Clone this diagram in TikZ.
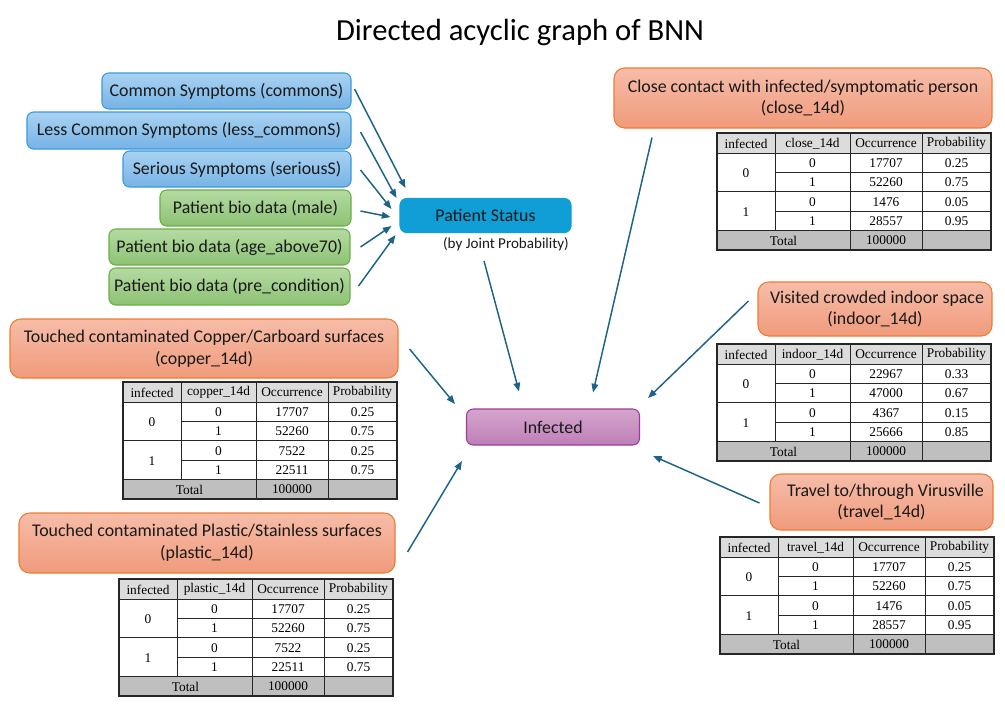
\documentclass[tikz,border=0pt]{standalone}
\usepackage{fontspec}
\setmainfont{Carlito}
\newfontfamily\tabfont{Liberation Serif}
\usetikzlibrary{arrows.meta,calc}
\definecolor{bluetop}{HTML}{A9D2F2}
\definecolor{bluebot}{HTML}{76B3E6}
\definecolor{bluebd}{HTML}{3A9AD9}
\definecolor{greentop}{HTML}{B5DAA2}
\definecolor{greenbot}{HTML}{8CC274}
\definecolor{greenbd}{HTML}{6AAE45}
\definecolor{orgtop}{HTML}{F6BCA8}
\definecolor{orgbot}{HTML}{F09B7C}
\definecolor{orgbd}{HTML}{ED7D31}
\definecolor{psfill}{HTML}{0F9ED5}
\definecolor{inftop}{HTML}{D4A5CD}
\definecolor{infbot}{HTML}{BE7FB7}
\definecolor{infbd}{HTML}{A03A9A}
\definecolor{arrc}{HTML}{1B6388}
\definecolor{hdrfill}{HTML}{DCDCDC}
\definecolor{totfill}{HTML}{BFBFBF}
\newcommand{\lblfont}{\fontsize{13.4}{16.3}\selectfont}
\tikzset{
  x=0.75pt, y=-0.75pt,
  sz/.style 2 args={minimum width=#1*0.75pt, minimum height=#2*0.75pt},
  basebox/.style={line width=0.8pt, font=\lblfont, inner sep=0pt, align=center, text=black!90},
  bluebox/.style={basebox, draw=bluebd, rounded corners=5pt, top color=bluetop, bottom color=bluebot},
  greenbox/.style={basebox, draw=greenbd, rounded corners=5pt, top color=greentop, bottom color=greenbot},
  orgbox/.style={basebox, draw=orgbd, rounded corners=8pt, top color=orgtop, bottom color=orgbot},
  psbox/.style={basebox, draw=psfill, fill=psfill, rounded corners=5pt},
  infbox/.style={basebox, draw=infbd, rounded corners=5pt, top color=inftop, bottom color=infbot},
  arr/.style={draw=arrc, line width=1.1pt, -{Triangle[length=6.5pt,width=5pt]}},
  tbl/.style={font=\tabfont\fontsize{10}{11}\selectfont, inner sep=0pt, text=black},
  tline/.style={draw=black!85, line width=0.75pt},
  tborder/.style={draw=black!85, line width=1pt},
}
\newcommand{\cpt}[5]{%
\begin{scope}[shift={(#2,#3)}]
  \fill[hdrfill] (0,0) rectangle (274,20);
  \fill[totfill] (0,97.6) rectangle (274,117);
  \draw[tline] (58,0) -- (58,97.6);
  \draw[tline] (133,0) -- (133,117);
  \draw[tline] (205,0) -- (205,117);
  \draw[tline] (0,20) -- (274,20);
  \draw[tline] (58,39.4) -- (274,39.4);
  \draw[tline] (0,58.8) -- (274,58.8);
  \draw[tline] (58,78.2) -- (274,78.2);
  \draw[tline] (0,97.6) -- (274,97.6);
  \draw[tborder] (0,0) rectangle (274,117);
  \node[tbl] (#1-h1) at (29,10.5) {infected};
  \node[tbl] (#1-h2) at (95.5,10.5) {#4};
  \node[tbl] (#1-h3) at (169,10.5) {Occurrence};
  \node[tbl] (#1-h4) at (239.5,10.5) {Probability};
  \node[tbl] (#1-i0) at (29,39.8) {0};
  \node[tbl] (#1-i1) at (29,78.6) {1};
  \foreach \o/\p [count=\i] in {#5} {
    \pgfmathtruncatemacro\cv{1-mod(\i,2)}
    \node[tbl] (#1-v\i) at (95.5,{10.7+19.4*\i}) {\cv};
    \node[tbl] (#1-o\i) at (169,{10.7+19.4*\i}) {\o};
    \node[tbl] (#1-p\i) at (239.5,{10.7+19.4*\i}) {\p};
  }
  \node[tbl] (#1-t) at (66.5,107.6) {Total};
  \node[tbl] (#1-tn) at (169,107.6) {100000};
\end{scope}}
\begin{document}
\begin{tikzpicture}
\useasboundingbox (0,0) rectangle (1005,719);
% title
\node[font=\fontsize{23}{28}\selectfont, text=black] (title) at (520,32) {Directed acyclic graph of BNN};
% left parent nodes
\node[bluebox, sz={249}{36}] (cs) at (226.5,91) {Common Symptoms (commonS)};
\node[bluebox, sz={324}{37}] (lcs) at (189,130.5) {Less Common Symptoms (less\_commonS)};
\node[bluebox, sz={228}{36}] (ss) at (237,169) {Serious Symptoms (seriousS)};
\node[greenbox, sz={191}{36}] (male) at (255.5,208) {Patient bio data (male)};
\node[greenbox, sz={241}{36}] (age) at (229.5,247) {Patient bio data (age\_above70)};
\node[greenbox, sz={241}{37}] (pre) at (229.5,286.5) {Patient bio data (pre\_condition)};
% patient status
\node[psbox, sz={171}{34}] (ps) at (485.5,215.5) {Patient Status};
\node[font=\fontsize{11.3}{13}\selectfont, text=black!90, inner sep=0pt] (jp) at (506,244) {(by Joint Probability)};
% infected
\node[infbox, sz={173}{36}] (inf) at (553,427) {Infected};
% orange nodes
\node[orgbox, sz={378}{60}] (close) at (803,98) {Close contact with infected/symptomatic person\\(close\_14d)};
\node[orgbox, sz={388}{59}] (copper) at (204,348.5) {Touched contaminated Copper/Carboard surfaces\\(copper\_14d)};
\node[orgbox, sz={376}{60}] (plastic) at (207,543) {Touched contaminated Plastic/Stainless surfaces\\(plastic\_14d)};
\node[orgbox, sz={234}{54}] (indoor) at (875,309) {\hspace*{3pt}Visited crowded indoor space\\(indoor\_14d)};
\node[orgbox, sz={223}{56}] (travel) at (881.5,502) {\hspace*{6pt}Travel to/through Virusville\\(travel\_14d)};
% tables
\cpt{tclose}{717}{133}{close\_14d}{17707/0.25,52260/0.75,1476/0.05,28557/0.95}
\cpt{tcopper}{123}{382}{copper\_14d}{17707/0.25,52260/0.75,7522/0.25,22511/0.75}
\cpt{tplastic}{119}{579}{plastic\_14d}{17707/0.25,52260/0.75,7522/0.25,22511/0.75}
\cpt{tindoor}{717}{344}{indoor\_14d}{22967/0.33,47000/0.67,4367/0.15,25666/0.85}
\cpt{ttravel}{720}{537}{travel\_14d}{17707/0.25,52260/0.75,1476/0.05,28557/0.95}
% arrows into Patient Status
\draw[arr] ($(cs.east)+(3,-2)$) -- ($(ps.west)+(6,-27.5)$);
\draw[arr] ($(lcs.east)+(9,1.5)$) -- ($(ps.west)+(-3,-17.5)$);
\draw[arr] ($(ss.east)+(9,1)$) -- ($(ps.west)+(-8,-6.5)$);
\draw[arr] ($(male.east)+(9,3)$) -- ($(ps.west)+(-9,1.5)$);
\draw[arr] ($(age.east)+(10,0)$) -- ($(ps.west)+(-8,10.5)$);
\draw[arr] ($(pre.east)+(8,-0.5)$) -- ($(ps.west)+(-4,19.5)$);
% arrows into Infected
\draw[arr] ($(jp.south)+(-22,10)$) -- ($(inf.north)+(-34,-17)$);
\draw[arr] ($(close.south)+(-151,9)$) -- ($(inf.north)+(40,-16)$);
\draw[arr] ($(indoor.west)+(-9,-8)$) -- ($(inf.east)+(8,-29)$);
\draw[arr] ($(travel.west)+(-10,1)$) -- ($(inf.east)+(13,29)$);
\draw[arr] ($(copper.east)+(11,0.5)$) -- ($(inf.west)+(-11,-23)$);
\draw[arr] ($(plastic.east)+(12,9)$) -- ($(inf.west)+(-4,34)$);
\end{tikzpicture}
\end{document}
